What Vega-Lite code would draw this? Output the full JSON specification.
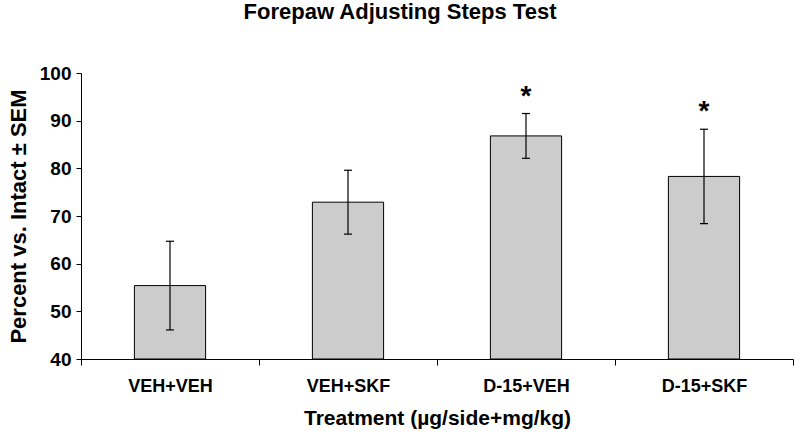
{
  "$schema": "https://vega.github.io/schema/vega-lite/v6.json",
  "width": 712,
  "height": 286,
  "autosize": {"type": "none"},
  "padding": {"left": 81, "top": 73, "right": 7, "bottom": 80},
  "background": "white",
  "title": {
    "text": "Forepaw Adjusting Steps Test",
    "font": "Liberation Sans",
    "fontSize": 22,
    "fontWeight": "bold",
    "color": "black",
    "anchor": "middle",
    "dx": -37,
    "offset": 40
  },
  "data": {
    "values": [
      {"treatment": "VEH+VEH", "mean": 55.4, "low": 46.1, "high": 64.7, "sig": ""},
      {"treatment": "VEH+SKF", "mean": 72.9, "low": 66.2, "high": 79.6, "sig": ""},
      {"treatment": "D-15+VEH", "mean": 86.8, "low": 82.1, "high": 91.5, "sig": "*"},
      {"treatment": "D-15+SKF", "mean": 78.3, "low": 68.4, "high": 88.2, "sig": "*"}
    ]
  },
  "config": {
    "view": {"stroke": null},
    "axis": {
      "grid": false,
      "domainColor": "black",
      "tickColor": "black",
      "labelColor": "black",
      "titleColor": "black",
      "labelFont": "Liberation Sans",
      "titleFont": "Liberation Sans",
      "labelFontWeight": "bold",
      "titleFontWeight": "bold"
    }
  },
  "encoding": {
    "x": {
      "field": "treatment",
      "type": "nominal",
      "sort": null,
      "scale": {"paddingInner": 0, "paddingOuter": 0},
      "axis": {
        "title": "Treatment (µg/side+mg/kg)",
        "labelAngle": 0,
        "labelFontSize": 18,
        "titleFontSize": 21,
        "tickBand": "extent",
        "tickSize": 6,
        "labelPadding": 12,
        "titlePadding": 12
      }
    }
  },
  "layer": [
    {
      "mark": {"type": "bar", "width": {"band": 0.4}, "fill": "#cccccc", "stroke": "black", "strokeWidth": 1},
      "encoding": {
        "y": {
          "field": "mean",
          "type": "quantitative",
          "title": "Percent vs. Intact ± SEM",
          "scale": {"domain": [40, 100], "zero": false, "nice": false},
          "axis": {
            "values": [40, 50, 60, 70, 80, 90, 100],
            "labelFontSize": 19,
            "titleFontSize": 22,
            "tickSize": 5,
            "labelPadding": 5,
            "titlePadding": 9
          }
        },
        "y2": {"datum": 40}
      }
    },
    {
      "mark": {"type": "errorbar", "thickness": 1.2, "ticks": {"size": 8, "color": "black", "opacity": 1}, "rule": {"color": "black", "opacity": 1}, "color": "black", "opacity": 1},
      "encoding": {
        "y": {"field": "low", "type": "quantitative", "title": "Percent vs. Intact ± SEM"},
        "y2": {"field": "high"}
      }
    },
    {
      "mark": {"type": "text", "baseline": "bottom", "dy": -3, "font": "Liberation Sans", "fontSize": 28, "fontWeight": "bold", "color": "black"},
      "encoding": {
        "y": {"field": "high", "type": "quantitative", "title": "Percent vs. Intact ± SEM"},
        "text": {"field": "sig"}
      }
    }
  ]
}
